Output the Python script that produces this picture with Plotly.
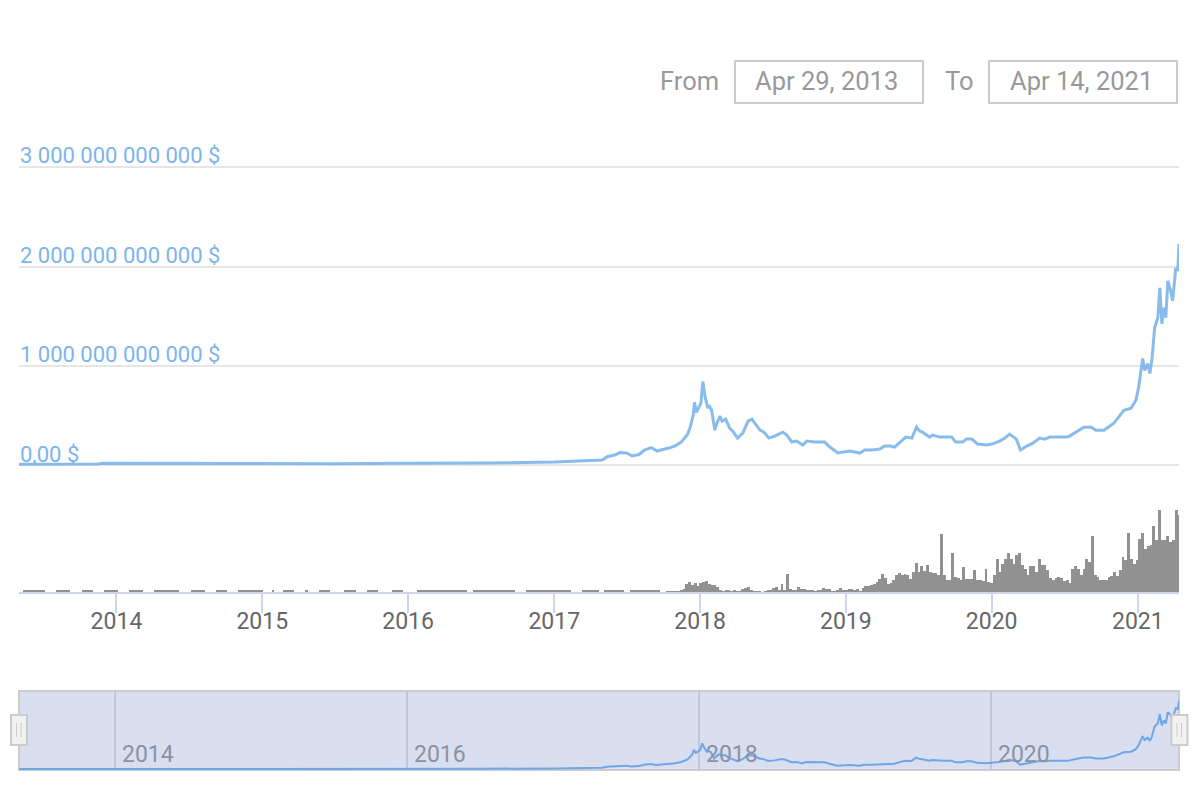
import pandas as pd
import plotly.graph_objects as go
from plotly.subplots import make_subplots

# market cap, in billions of dollars
cap_dates = [
    "2013-04-29", "2013-08-01", "2013-11-15", "2013-12-01", "2014-06-01", "2014-12-01", "2015-01-15", "2015-07-01",
    "2016-01-01", "2016-07-01", "2017-01-01", "2017-03-01", "2017-04-01", "2017-05-01", "2017-05-15", "2017-06-01",
    "2017-06-15", "2017-07-01", "2017-07-15", "2017-08-01", "2017-08-15", "2017-09-01", "2017-09-15", "2017-10-01",
    "2017-10-15", "2017-11-01", "2017-11-15", "2017-12-01", "2017-12-08", "2017-12-15", "2017-12-18", "2017-12-23",
    "2017-12-28", "2018-01-03", "2018-01-08", "2018-01-13", "2018-01-20", "2018-01-23", "2018-01-30", "2018-02-07",
    "2018-02-12", "2018-02-20", "2018-02-25", "2018-03-06", "2018-03-16", "2018-03-24", "2018-04-05", "2018-04-18",
    "2018-05-01", "2018-05-11", "2018-05-18", "2018-05-31", "2018-06-10", "2018-06-22", "2018-07-07", "2018-07-27",
    "2018-08-06", "2018-08-19", "2018-08-31", "2018-09-15", "2018-09-25", "2018-10-15", "2018-11-09", "2018-11-22",
    "2018-12-12", "2019-01-01", "2019-01-11", "2019-02-05", "2019-02-17", "2019-03-07", "2019-03-27", "2019-04-08",
    "2019-04-21", "2019-05-03", "2019-05-21", "2019-05-31", "2019-06-15", "2019-06-27", "2019-07-05", "2019-07-12",
    "2019-07-30", "2019-08-06", "2019-08-24", "2019-09-05", "2019-09-23", "2019-10-03", "2019-10-20", "2019-10-30",
    "2019-11-12", "2019-11-27", "2019-12-19", "2020-01-01", "2020-01-21", "2020-02-03", "2020-02-15", "2020-03-03",
    "2020-03-13", "2020-03-29", "2020-04-13", "2020-04-30", "2020-05-13", "2020-05-25", "2020-07-07", "2020-07-14",
    "2020-08-06", "2020-08-19", "2020-09-06", "2020-09-18", "2020-10-08", "2020-11-02", "2020-11-27", "2020-12-15",
    "2020-12-27", "2021-01-03", "2021-01-13", "2021-01-18", "2021-01-26", "2021-01-31", "2021-02-05", "2021-02-12",
    "2021-02-20", "2021-02-25", "2021-03-02", "2021-03-07", "2021-03-12", "2021-03-17", "2021-03-24", "2021-03-29",
    "2021-04-06", "2021-04-11", "2021-04-14",
]
cap_values = [
    13, 12, 14, 22, 20, 20, 15, 18,
    22, 24, 35, 45, 50, 55, 90, 105,
    130, 125, 95, 110, 155, 180, 145, 160,
    175, 200, 235, 315, 395, 505, 635, 535,
    575, 625, 845, 705, 575, 605, 555, 355,
    425, 495, 445, 465, 375, 345, 275, 325,
    445, 465, 425, 355, 335, 275, 295, 335,
    305, 235, 245, 205, 245, 235, 235, 185,
    125, 135, 145, 125, 155, 155, 165, 195,
    195, 185, 255, 285, 275, 385, 345, 335,
    285, 305, 285, 285, 285, 235, 235, 265,
    265, 215, 205, 215, 245, 275, 315, 265,
    155, 195, 225, 275, 265, 285, 285, 295,
    355, 385, 385, 355, 355, 425, 555, 575,
    655, 785, 1075, 955, 1025, 925, 1055, 1385,
    1485, 1785, 1425, 1585, 1485, 1855, 1755, 1655,
    1985, 1955, 2225,
]

# weekly volume, arbitrary units
vol_2013_2017 = [
    0, 0, 1.5, 1.5, 1.5, 1.5, 1.5, 1.5, 1.5, 1.5,
    0, 0, 0, 0, 1.5, 1.5, 1.5, 1.5, 1.5, 0,
    0, 0, 0, 1.5, 1.5, 1.5, 1.5, 0, 0, 0,
    0, 1.5, 1.5, 1.5, 1.5, 1.5, 0, 0, 0, 0,
    1.5, 1.5, 1.5, 1.5, 1.5, 0, 0, 0, 0, 1.5,
    1.5, 1.5, 1.5, 1.5, 1.5, 1.5, 1.5, 1.5, 0, 0,
    0, 0, 1.5, 1.5, 1.5, 1.5, 1.5, 0, 0, 0,
    0, 1.5, 1.5, 1.5, 1.5, 0, 0, 0, 0, 1.5,
    1.5, 1.5, 1.5, 1.5, 1.5, 1.5, 1.5, 1.5, 0, 0,
    0, 1.5, 0, 0, 0, 1.5, 1.5, 1.5, 1.5, 0,
    0, 0, 0, 1.5, 0, 0, 0, 0, 1.5, 1.5,
    1.5, 1.5, 0, 0, 0, 0, 0, 1.5, 1.5, 1.5,
    1.5, 0, 0, 0, 0, 1.5, 1.5, 1.5, 1.5, 0,
    0, 0, 0, 0, 1.5, 1.5, 1.5, 1.5, 0, 0,
    0, 0, 0, 1.5, 1.5, 1.5, 1.5, 1.5, 1.5, 1.5,
    1.5, 1.5, 1.5, 1.5, 1.5, 1.5, 1.5, 1.5, 1.5, 1.5,
    1.5, 0, 0, 1.5, 1.5, 1.5, 1.5, 1.5, 1.5, 1.5,
    1.5, 1.5, 1.5, 1.5, 1.5, 1.5, 1.5, 1.5, 0, 0,
    0, 0, 1.5, 1.5, 1.5, 1.5, 1.5, 1.5, 1.5, 1.5,
    1.5, 1.5, 1.5, 1.5, 1.5, 1.5, 1.5, 1.5, 0, 0,
    0, 0, 1.5, 1.5, 1.5, 1.5, 1.5, 1.5, 0, 0,
    1.5, 1.5, 1.5, 1.5, 1.5, 1.5, 1.5, 0, 0, 1.5,
    1.5, 1.5, 1.5, 1.5, 1.5, 1.5, 1.5, 1.5, 1.5,
]
vol_2017_2018 = [
    1.7, 0, 0, 1, 1, 1, 1, 1, 2, 3,
    7.7, 9.7, 7, 9, 6, 9, 9.7, 11, 8, 7,
    6.7, 5, 2, 1, 1.7, 1.7, 1, 1.7, 1, 1,
    3, 4, 5, 2, 1, 1, 1, 0, 1, 1.7,
    1.7, 4, 5, 2.3, 7.7, 2.3, 17.7, 3.3, 2.3, 2.3,
    5, 3.3, 3, 2.3, 1.7, 1.7, 1, 1.7, 2, 4.3,
    3.3, 3.3, 1, 1, 1.7, 4, 2.3, 2.3,
]
vol_2019_2021 = [
    3.3, 3.3, 1.7, 3.3, 1, 4.3, 5.7, 6, 6.7, 8.3,
    10, 13.3, 17.7, 14.3, 8.3, 9, 11.7, 16.7, 19.3, 16.7,
    17.7, 16.7, 13.3, 20, 29.3, 20, 25.7, 21, 27.3, 20,
    19.3, 19.3, 16.7, 57.7, 16.7, 11.7, 11.7, 39.3, 15, 14.3,
    11.7, 25, 13.3, 12.7, 13.3, 21.7, 12.3, 11.7, 10.7, 23.3,
    10, 9.3, 16.7, 33.3, 20, 28.3, 33.3, 39.3, 33.3, 28.3,
    36.7, 39.3, 26.7, 23.3, 16.7, 25.7, 25.7, 20, 33.3, 26.7,
    26.7, 21.7, 14.3, 11.7, 14.3, 15, 14.3, 11, 11.7, 9,
    23.3, 25.7, 23.3, 16.7, 23.3, 33.3, 30, 55.7, 16.7, 15,
    12.3, 11.7, 11.7, 15, 15.7, 20, 15.7, 21.7, 35, 31.7,
    59.3, 33.3, 28.3, 31.7, 53.3, 59.3, 43.3, 45.7, 46.7, 65.7,
    51.7, 81.7, 52.3, 51.7, 55.7, 50, 51.7, 81.7, 76.7,
]
vol_values = vol_2013_2017 + vol_2017_2018 + vol_2019_2021
vol_dates = pd.date_range(end="2021-04-14", periods=len(vol_values), freq="7D")

y_ticks = [0, 1000, 2000, 3000]
y_labels = ["0,00 $", "1 000 000 000 000 $", "2 000 000 000 000 $", "3 000 000 000 000 $"]
year_ticks = ["2014-01-01", "2015-01-01", "2016-01-01", "2017-01-01", "2018-01-01", "2019-01-01", "2020-01-01", "2021-01-01"]
year_labels = ["2014", "2015", "2016", "2017", "2018", "2019", "2020", "2021"]
nav_ticks = ["2014-01-01", "2016-01-01", "2018-01-01", "2020-01-01"]
nav_labels = ["2014", "2016", "2018", "2020"]

# the page body has an 8px margin, so the figure sits at (8, 8) in the window
W, H = 1184, 784
OFFSET = 8
FONT = "Roboto"
BLUE = "#7cb5ec"


# pixel helpers, takes window pixels
def px(x):
    return (x - OFFSET) / W


def py(y):
    return 1 - (y - OFFSET) / H


fig = make_subplots(rows=3, cols=1)

fig.add_trace(go.Scatter(x=cap_dates, y=cap_values, mode="lines", opacity=0.9, line=dict(color=BLUE, width=3), hoverinfo="skip"), row=1, col=1)
fig.add_trace(go.Bar(x=vol_dates, y=vol_values, width=7 * 86400000, marker=dict(color="#919191", line=dict(width=0)), hoverinfo="skip"), row=2, col=1)
fig.add_trace(go.Scatter(x=cap_dates, y=cap_values, mode="lines", line=dict(color="#6ea6e6", width=2), hoverinfo="skip"), row=3, col=1)

x_domain = [px(19), px(1179)]
main_range = ["2013-05-02", "2021-04-14"]

fig.update_layout(
    width=W, height=H,
    margin=dict(l=0, r=0, t=0, b=0),
    paper_bgcolor="white",
    plot_bgcolor="rgba(0,0,0,0)",
    showlegend=False,
    bargap=0,
    font=dict(family=FONT, size=23, color="#666666"),
    xaxis=dict(domain=x_domain, range=main_range, type="date", visible=False),
    # domain runs below zero so the "0,00 $" label is not dropped
    yaxis=dict(
        domain=[py(480), py(130)], range=[-146, 3372],
        tickvals=y_ticks, ticktext=y_labels, ticklabelposition="inside top",
        ticklabelstandoff=-2, ticklabelshift=4,
        tickfont=dict(family=FONT, size=22, color=BLUE),
        showgrid=True, gridcolor="#e6e6e6", gridwidth=2, zeroline=False, showline=False, ticks="",
    ),
    xaxis2=dict(
        domain=x_domain, range=main_range, type="date",
        tickvals=year_ticks, ticktext=year_labels, ticks="outside", ticklen=19, tickwidth=2, tickcolor="#ccd6eb",
        ticklabelstandoff=-12,
        showline=True, linecolor="#ccd6eb", linewidth=2, showgrid=False, zeroline=False,
        tickfont=dict(family=FONT, size=23, color="#666666"),
    ),
    yaxis2=dict(domain=[py(592), py(505)], range=[0, 87], visible=False),
    xaxis3=dict(
        domain=x_domain, range=["2013-05-06", "2021-04-14"], type="date",
        tickvals=nav_ticks, showticklabels=False, ticks="",
        showgrid=True, gridcolor="#c0c8d8", gridwidth=1.5, zeroline=False, showline=False,
    ),
    yaxis3=dict(domain=[py(770), py(691)], range=[-16, 2535], visible=False),
)

shapes = [
    # navigator body
    dict(type="rect", xref="paper", yref="paper", x0=px(19), x1=px(1179), y0=py(770), y1=py(691),
         fillcolor="#d9dfef", line=dict(color="#cccccc", width=2), layer="below"),
    # date boxes
    dict(type="rect", xref="paper", yref="paper", x0=px(735), x1=px(923), y0=py(103), y1=py(61),
         fillcolor="white", line=dict(color="#cccccc", width=2)),
    dict(type="rect", xref="paper", yref="paper", x0=px(989), x1=px(1177), y0=py(103), y1=py(61),
         fillcolor="white", line=dict(color="#cccccc", width=2)),
]
# navigator handles
for left in [11, 1171.5]:
    shapes.append(dict(type="rect", xref="paper", yref="paper", x0=px(left), x1=px(left + 16), y0=py(745), y1=py(715),
                       fillcolor="#f2f2f2", line=dict(color="#cccccc", width=2)))
    for off in [5.5, 10]:
        shapes.append(dict(type="line", xref="paper", yref="paper", x0=px(left + off), x1=px(left + off), y0=py(737), y1=py(723),
                           line=dict(color="#cccccc", width=1)))

annotations = [
    dict(text="From", x=px(721), y=py(81), xanchor="right"),
    dict(text="Apr 29, 2013", x=px(826), y=py(81), xanchor="center"),
    dict(text="To", x=px(976), y=py(81), xanchor="right"),
    dict(text="Apr 14, 2021", x=px(1081), y=py(81), xanchor="center"),
]
for a in annotations:
    a.update(xref="paper", yref="paper", yanchor="middle", showarrow=False, font=dict(family=FONT, size=25.5, color="#999999"))

for tick, label in zip(nav_ticks, nav_labels):
    annotations.append(dict(text=label, x=tick, y=py(754), xref="x3", yref="paper", xanchor="left", xshift=5, yanchor="middle",
                            showarrow=False, font=dict(family=FONT, size=23, color="#8c92a2")))

fig.update_layout(shapes=shapes, annotations=annotations)

fig.write_html("out.html")
